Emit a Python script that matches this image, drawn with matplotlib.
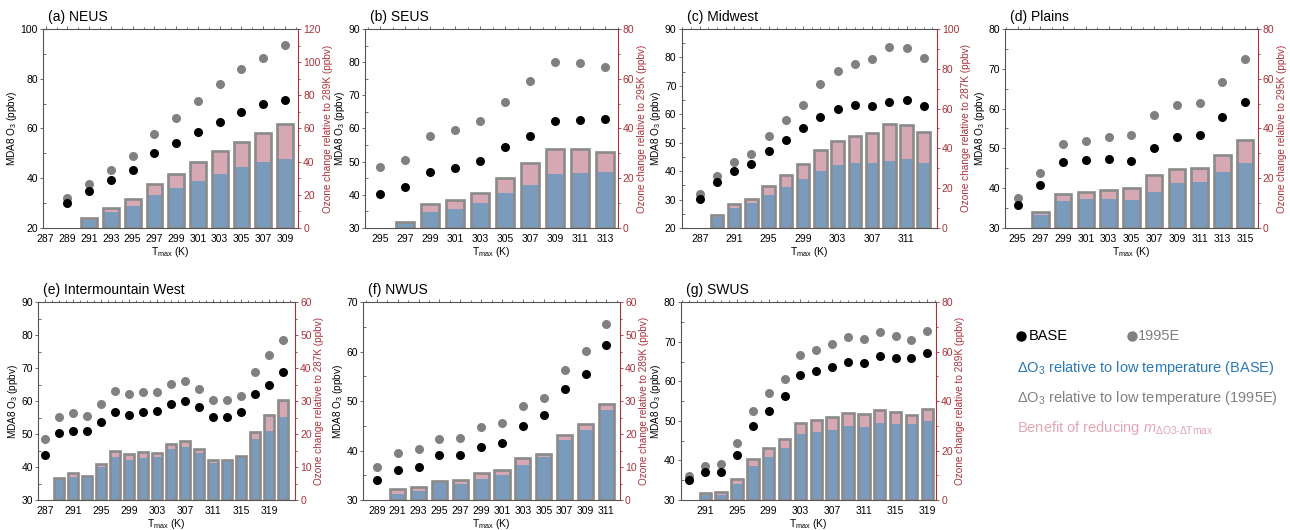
import matplotlib
matplotlib.use('Agg')
import matplotlib.pyplot as plt
from matplotlib.ticker import MultipleLocator, FixedLocator
from matplotlib.lines import Line2D

plt.rcParams['font.family'] = ['Liberation Sans', 'DejaVu Sans']
plt.rcParams['mathtext.fontset'] = 'custom'
plt.rcParams['mathtext.rm'] = 'Liberation Sans'
plt.rcParams['mathtext.it'] = 'Liberation Sans:italic'
plt.rcParams['mathtext.bf'] = 'Liberation Sans:bold'

# ---------------- data ----------------
NEUS_T = [289, 291, 293, 295, 297, 299, 301, 303, 305, 307, 309]
NEUS_BASE = [30.0, 35.0, 39.3, 43.2, 50.0, 54.2, 58.5, 62.7, 66.8, 69.8, 71.5]
NEUS_1995E = [32.0, 37.5, 43.5, 49.0, 57.8, 64.2, 71.2, 77.8, 83.8, 88.3, 93.7]
NEUS_DBASE = [0, 5.0, 9.5, 13.0, 20.0, 24.0, 28.5, 32.5, 36.5, 39.5, 41.5]
NEUS_D1995E = [0, 6.0, 12.0, 17.5, 26.5, 32.5, 40.0, 46.5, 52.0, 57.0, 62.5]

SEUS_T = [295, 297, 299, 301, 303, 305, 307, 309, 311, 313]
SEUS_BASE = [40.4, 42.4, 47.0, 48.2, 50.3, 54.3, 57.7, 62.2, 62.5, 62.8]
SEUS_1995E = [48.3, 50.4, 57.6, 59.4, 62.2, 68.1, 74.3, 79.9, 79.7, 78.6]
SEUS_DBASE = [0, 2.2, 6.6, 7.8, 10.0, 14.0, 17.4, 21.8, 22.1, 22.4]
SEUS_D1995E = [0, 2.5, 9.6, 11.4, 14.2, 20.2, 26.3, 31.8, 31.6, 30.5]

MW_T = [287, 289, 291, 293, 295, 297, 299, 301, 303, 305, 307, 309, 311, 313]
MW_BASE = [30.3, 36.1, 40.1, 42.4, 47.0, 51.0, 55.0, 58.9, 62.0, 63.1, 62.9, 64.2, 65.1, 62.8]
MW_1995E = [32.1, 38.3, 43.1, 46.0, 52.3, 57.9, 63.3, 70.5, 75.3, 77.8, 79.3, 83.8, 83.2, 79.9]
MW_DBASE = [0, 5.6, 10.2, 12.8, 16.5, 20.5, 24.6, 28.7, 31.9, 32.9, 32.7, 33.5, 34.7, 32.5]
MW_D1995E = [0, 6.5, 12.2, 14.8, 21.1, 26.8, 32.4, 39.1, 43.5, 46.1, 47.8, 52.1, 51.7, 48.0]

PL_T = [295, 297, 299, 301, 303, 305, 307, 309, 311, 313, 315]
PL_BASE = [35.7, 40.9, 46.5, 47.1, 47.4, 46.9, 50.0, 52.8, 53.3, 58.0, 61.6]
PL_1995E = [37.6, 43.8, 51.2, 51.9, 52.9, 53.4, 58.4, 61.0, 61.3, 66.6, 72.4]
PL_DBASE = [0, 5.3, 10.9, 11.6, 11.8, 11.4, 14.5, 17.9, 18.3, 22.6, 26.0]
PL_D1995E = [0, 6.6, 13.8, 14.5, 15.3, 15.9, 21.2, 23.9, 24.2, 29.3, 35.2]

IMW_T = [287, 289, 291, 293, 295, 297, 299, 301, 303, 305, 307, 309, 311, 313, 315, 317, 319, 321]
IMW_BASE = [43.8, 50.4, 50.9, 50.8, 53.7, 56.8, 55.9, 56.6, 56.9, 59.2, 60.0, 58.1, 55.1, 55.3, 56.7, 62.3, 64.8, 69.0]
IMW_1995E = [48.5, 55.2, 56.5, 55.5, 59.2, 63.2, 62.1, 62.8, 62.7, 65.2, 66.0, 63.8, 60.4, 60.2, 61.7, 68.8, 74.0, 78.5]
IMW_DBASE = [0, 6.6, 7.1, 7.0, 9.9, 13.0, 12.1, 12.8, 13.1, 15.4, 16.2, 14.3, 11.3, 11.5, 12.9, 18.5, 21.0, 25.2]
IMW_D1995E = [0, 6.8, 8.3, 7.2, 10.9, 14.9, 13.9, 14.6, 14.4, 16.9, 17.8, 15.6, 12.2, 12.0, 13.4, 20.5, 25.7, 30.2]

NW_T = [289, 291, 293, 295, 297, 299, 301, 303, 305, 307, 309, 311]
NW_BASE = [34.1, 36.0, 36.7, 39.2, 39.1, 40.7, 41.6, 44.9, 47.1, 52.5, 55.4, 61.4]
NW_1995E = [36.7, 39.5, 40.3, 42.3, 42.5, 44.7, 45.6, 49.1, 50.6, 56.3, 60.1, 65.7]
NW_DBASE = [0, 1.9, 2.6, 5.2, 5.0, 6.5, 7.5, 10.7, 13.1, 18.3, 21.3, 27.3]
NW_D1995E = [0, 3.2, 3.8, 5.9, 6.1, 8.2, 9.1, 12.6, 14.1, 19.8, 23.2, 29.2]

SW_T = [289, 291, 293, 295, 297, 299, 301, 303, 305, 307, 309, 311, 313, 315, 317, 319]
SW_BASE = [35.0, 37.0, 37.0, 41.5, 48.7, 52.6, 56.2, 61.7, 62.6, 63.6, 65.0, 64.6, 66.3, 65.8, 65.8, 67.2]
SW_1995E = [36.0, 38.6, 39.0, 44.5, 52.6, 57.0, 60.6, 66.7, 67.9, 69.5, 71.3, 70.8, 72.5, 71.6, 70.4, 72.8]
SW_DBASE = [0, 1.9, 2.0, 6.4, 13.6, 17.5, 21.0, 26.6, 27.4, 28.4, 29.8, 29.5, 31.2, 30.8, 30.8, 32.1]
SW_D1995E = [0, 2.7, 3.2, 8.6, 16.5, 21.2, 24.7, 31.0, 32.2, 33.6, 35.4, 35.0, 36.6, 35.8, 34.4, 37.0]

TITLES = ['(a) NEUS', '(b) SEUS', '(c) Midwest', '(d) Plains',
          '(e) Intermountain West', '(f) NWUS', '(g) SWUS']
REF_T = ['289K', '295K', '287K', '295K', '287K', '289K', '289K']
XTICKS = [
    [287, 289, 291, 293, 295, 297, 299, 301, 303, 305, 307, 309],
    [295, 297, 299, 301, 303, 305, 307, 309, 311, 313],
    [287, 291, 295, 299, 303, 307, 311],
    [295, 297, 299, 301, 303, 305, 307, 309, 311, 313, 315],
    [287, 291, 295, 299, 303, 307, 311, 315, 319],
    [289, 291, 293, 295, 297, 299, 301, 303, 305, 307, 309, 311],
    [291, 295, 299, 303, 307, 311, 315, 319],
]

SERIES = [
    (NEUS_T, NEUS_BASE, NEUS_1995E, NEUS_DBASE, NEUS_D1995E),
    (SEUS_T, SEUS_BASE, SEUS_1995E, SEUS_DBASE, SEUS_D1995E),
    (MW_T, MW_BASE, MW_1995E, MW_DBASE, MW_D1995E),
    (PL_T, PL_BASE, PL_1995E, PL_DBASE, PL_D1995E),
    (IMW_T, IMW_BASE, IMW_1995E, IMW_DBASE, IMW_D1995E),
    (NW_T, NW_BASE, NW_1995E, NW_DBASE, NW_D1995E),
    (SW_T, SW_BASE, SW_1995E, SW_DBASE, SW_D1995E),
]

# ---------------- layout / style ----------------
LYLIM = [(20, 100, 20), (30, 90, 10), (20, 90, 10), (30, 80, 10), (30, 90, 10), (30, 70, 10), (30, 80, 10)]
RYLIM = [(0, 120, 20), (0, 80, 20), (0, 100, 20), (0, 80, 20), (0, 60, 10), (0, 60, 10), (0, 80, 20)]
XLIM = [(286.75, 310.2), (293.8, 314.0), (284.9, 314.5), (293.9, 316.1),
        (286.05, 322.7), (287.7, 312.3), (287.9, 320.1)]
POS = [
    (0.0333, 0.5698, 0.1977, 0.3755),
    (0.2830, 0.5698, 0.1959, 0.3755),
    (0.5284, 0.5698, 0.1977, 0.3755),
    (0.7791, 0.5698, 0.1959, 0.3755),
    (0.0297, 0.0566, 0.1990, 0.3730),
    (0.2816, 0.0566, 0.1990, 0.3730),
    (0.5277, 0.0566, 0.1979, 0.3730),
]

RED = '#a8323a'
BLUE = '#7b9bbd'
PINK = '#d6a8b4'
EDGE = '#8a8a8a'
GRAYDOT = '#808080'
SPINE = '#555555'
FS = 7.5
LFS = 7.2

fig = plt.figure(figsize=(12.9, 5.3), dpi=100)

for i in range(7):
    T, base, e95, db, de = SERIES[i]
    ax = fig.add_axes(POS[i])
    ax2 = ax.twinx()

    # bars on right axis (the reference temperature has zero change: no bar)
    bt = [t for t, v in zip(T, de) if v > 0]
    bde = [v for v in de if v > 0]
    bdb = [b for b, v in zip(db, de) if v > 0]
    w = 1.45
    ax2.bar(bt, bde, width=w, color=PINK, linewidth=0, zorder=1)
    ax2.bar(bt, bdb, width=w, color=BLUE, linewidth=0, zorder=2)
    ax2.bar(bt, bde, width=w, facecolor='none', edgecolor=EDGE, linewidth=1.9, zorder=3)

    # dots on left axis
    ax.plot(T, e95, 'o', color=GRAYDOT, markersize=6.5, markeredgewidth=0, zorder=5)
    ax.plot(T, base, 'o', color='black', markersize=6.5, markeredgewidth=0, zorder=6)

    ax.set_zorder(ax2.get_zorder() + 1)
    ax.patch.set_visible(False)

    lo, hi, st = LYLIM[i]
    ax.set_ylim(lo, hi)
    ax.yaxis.set_major_locator(MultipleLocator(st))
    ax.yaxis.set_minor_locator(MultipleLocator(st / 2))
    rlo, rhi, rst = RYLIM[i]
    ax2.set_ylim(rlo, rhi)
    ax2.yaxis.set_major_locator(MultipleLocator(rst))
    ax2.yaxis.set_minor_locator(MultipleLocator(rst / 2))

    ax.set_xlim(*XLIM[i])
    ax.xaxis.set_major_locator(FixedLocator(XTICKS[i]))
    ax.xaxis.set_minor_locator(MultipleLocator(1))
    ax.tick_params(axis='x', which='both', bottom=False, top=True, direction='out',
                   labelsize=FS, pad=1.5)
    ax.tick_params(axis='x', which='major', length=2.5, width=0.6, color=SPINE)
    ax.tick_params(axis='x', which='minor', length=1.5, width=0.6, color=SPINE)
    ax.tick_params(axis='y', which='major', direction='out', length=2.5, width=0.6,
                   labelsize=FS, pad=1.2, color=SPINE)
    ax.tick_params(axis='y', which='minor', direction='in', length=2, width=0.6, color=SPINE)
    ax2.tick_params(axis='y', which='major', direction='out', length=2.5, width=0.6,
                    labelsize=FS, pad=1.2, colors=RED)
    ax2.tick_params(axis='y', which='minor', direction='out', length=1.5, width=0.6, colors=RED)

    for s in ['left', 'top', 'bottom']:
        ax.spines[s].set_color(SPINE)
        ax.spines[s].set_linewidth(0.8)
        ax2.spines[s].set_visible(False)
    ax.spines['right'].set_visible(False)
    ax2.spines['right'].set_color(RED)
    ax2.spines['right'].set_linewidth(0.8)

    ax.set_ylabel(r'MDA8 O$_3$ (ppbv)', fontsize=LFS, labelpad=1)
    ax2.set_ylabel('Ozone change relative to %s (ppbv)' % REF_T[i], fontsize=LFS,
                   color=RED, labelpad=1.5)
    ax.set_xlabel(r'T$_{\mathrm{max}}$ (K)', fontsize=FS, labelpad=1)
    ax.text(0.02, 1.025, TITLES[i], transform=ax.transAxes, fontsize=10,
            ha='left', va='bottom')

# ---------------- legend ----------------
def fx(px):
    return px / 1290.0

def fy(py):
    return 1 - py / 530.0

fig.add_artist(Line2D([fx(1021)], [fy(336)], marker='o', color='black', markersize=7.5,
                      markeredgewidth=0, transform=fig.transFigure))
fig.text(fx(1029), fy(336), 'BASE', fontsize=10.5, color='black', va='center', ha='left')
fig.add_artist(Line2D([fx(1132)], [fy(336)], marker='o', color=GRAYDOT, markersize=7.5,
                      markeredgewidth=0, transform=fig.transFigure))
fig.text(fx(1138), fy(336), '1995E', fontsize=10.5, color=GRAYDOT, va='center', ha='left')
fig.text(fx(1017), fy(368), r'$\Delta$O$_3$ relative to low temperature (BASE)', fontsize=10.5,
         color='#2a78b5', va='center', ha='left')
fig.text(fx(1017), fy(398), r'$\Delta$O$_3$ relative to low temperature (1995E)', fontsize=10.5,
         color=GRAYDOT, va='center', ha='left')
fig.text(fx(1017), fy(428),
         r'Benefit of reducing $\mathit{m}_{\mathrm{\Delta O3\text{-}\Delta Tmax}}$',
         fontsize=10.5, color='#e3a6b6', va='center', ha='left')

fig.savefig('out.png', dpi=100)
